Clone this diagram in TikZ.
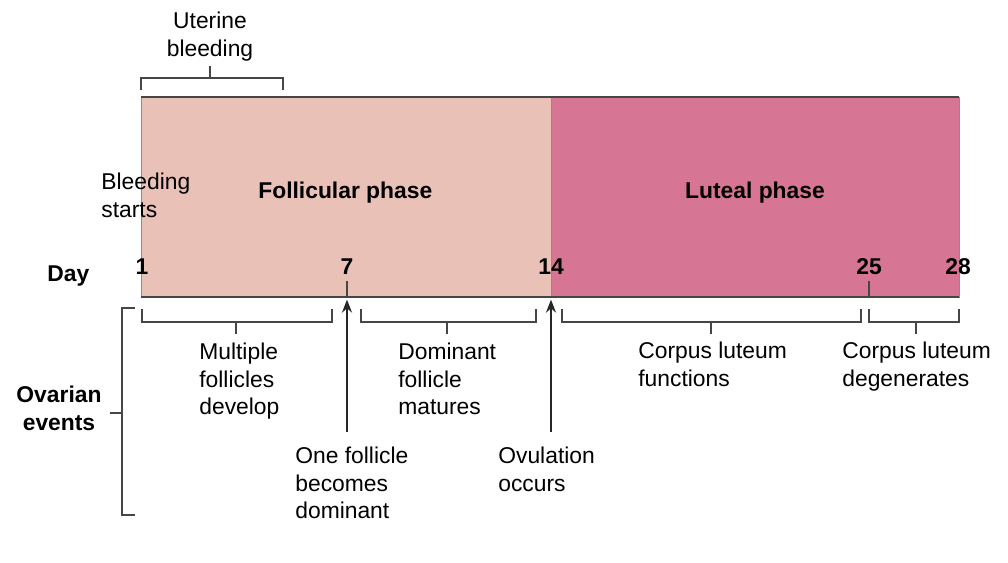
\documentclass[tikz,border=0pt]{standalone}
\usepackage{fontspec}
\setmainfont{Liberation Sans}
\usetikzlibrary{arrows.meta,positioning}
\definecolor{follic}{RGB}{233,193,183}
\definecolor{luteal}{RGB}{214,118,148}
\definecolor{edgecol}{RGB}{70,70,70}
\newcommand{\evbracket}[3]{%
  \draw[brk] (#1,309) |- (#3,322) -- (#3,309);
  \draw[brk] (#2,322) -- (#2,334);}

\begin{document}
\begin{tikzpicture}[
  x=0.02cm, y=-0.02cm,
  phase/.style={draw=black!45, line width=0.4pt, inner sep=0pt, outer sep=0pt,
                minimum height=4cm, anchor=north west},
  lbl/.style={font=\fontsize{13}{15.5}\selectfont, align=left, inner sep=0pt,
              anchor=north west},
  hd/.style={font=\fontsize{13}{15.5}\selectfont\bfseries, inner sep=0pt},
  day/.style={font=\fontsize{13}{15.5}\selectfont\bfseries, inner sep=0pt, anchor=base},
  brk/.style={draw=edgecol, line width=0.65pt},
  ar/.style={-{Stealth[length=2.6mm,width=2mm]}, line width=1.1pt, draw=black!85},
]
  \useasboundingbox (0,0) rectangle (1008,562);

  % the two phases of the cycle
  \node[phase, fill=follic, minimum width=8.2cm] (fol) at (141,97) {};
  \node[phase, fill=luteal, minimum width=8.16cm] (lut) at (551,97) {};
  \draw[edgecol, line width=0.7pt] (fol.north west) -- (lut.north east);
  \draw[edgecol, line width=0.7pt] (fol.south west) -- (lut.south east);

  \node[hd, anchor=base west] (fph) at (258,198) {Follicular phase};
  \node[hd, anchor=base] (lph) at (755,198) {Luteal phase};
  \node[lbl] (bs) at (101,173) {Bleeding\\starts};

  % uterine bleeding
  \draw[brk] (141,90) |- (283,78) -- (283,90);
  \draw[brk] (210,78) -- (210,66);
  \node[lbl, align=center, anchor=north] (ub) at (210,12) {Uterine\\bleeding};

  % days
  \node[day, anchor=base west] (dlbl) at (47,281) {Day};
  \node[day] (d1) at (142,274) {1};
  \node[day] (d7) at (347,274) {7};
  \node[day] (d14) at (551,274) {14};
  \node[day] (d25) at (869,274) {25};
  \node[day] (d28) at (958,274) {28};
  \draw[brk] (347,281) -- (347,297);
  \draw[brk] (869,281) -- (869,297);

  % ovarian events
  \evbracket{142}{236}{332}
  \evbracket{361}{447}{536}
  \evbracket{562}{711}{861}
  \evbracket{869}{916}{959}
  \node[lbl] (mf) at (199,343) {Multiple\\follicles\\develop};
  \node[lbl] (dm) at (398,343) {Dominant\\follicle\\matures};
  \node[lbl] (cf) at (638,342) {Corpus luteum\\functions};
  \node[lbl] (cd) at (842,342) {Corpus luteum\\degenerates};
  \node[lbl] (od) at (295,447) {One follicle\\becomes\\dominant};
  \node[lbl] (ov) at (498,447) {Ovulation\\occurs};

  \coordinate (o7) at (347,432);
  \coordinate (o14) at (551,432);
  \draw[ar] (o7) -- ([yshift=-1.5pt]o7 |- fol.south);
  \draw[ar] (o14) -- ([yshift=-1.5pt]o14 |- fol.south);

  \draw[brk] (135,308) -| (122,515) -- (135,515);
  \draw[brk] (110,413) -- (122,413);
  \node[hd, align=center, anchor=north] (oe) at (59,386) {Ovarian\\events};
\end{tikzpicture}
\end{document}
